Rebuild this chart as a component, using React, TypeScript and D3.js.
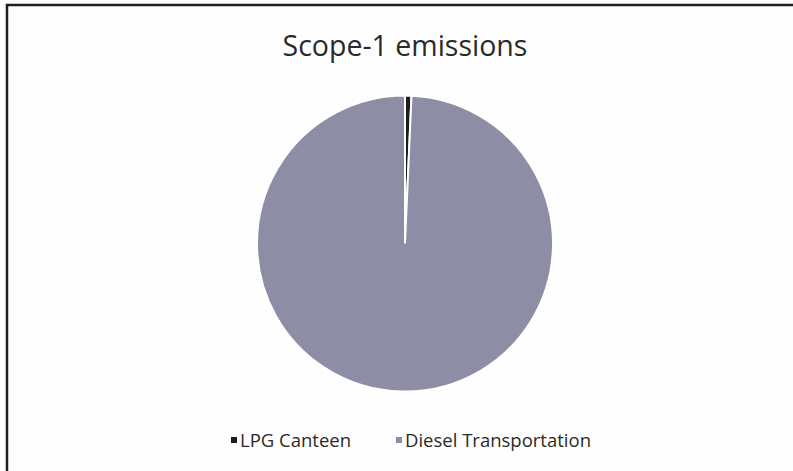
import React, { useRef, useEffect } from "react";
import * as d3 from "d3";

// emission share by source (percent)
const categories = ["LPG Canteen", "Diesel Transportation"];
const values = [0.7, 99.3];
const colors = ["#1c1c1c", "#8d8ea6"];
const title = "Scope-1 emissions";

const App = () => {
  const node: any = useRef();

  useEffect(() => {
    const width = 793,
      height = 471;
    const svg = d3.select(node.current).attr("width", width).attr("height", height);
    svg.selectAll("*").remove();

    svg
      .append("rect")
      .attr("width", width)
      .attr("height", height)
      .attr("fill", "#fefefe");

    // chart frame, runs off the right and bottom of the picture
    svg
      .append("rect")
      .attr("x", 7)
      .attr("y", 5)
      .attr("width", width + 20)
      .attr("height", height + 20)
      .attr("fill", "none")
      .attr("stroke", "#1e1e1e")
      .attr("stroke-width", 2.5);

    svg
      .append("text")
      .attr("x", 405)
      .attr("y", 56)
      .attr("text-anchor", "middle")
      .attr("font-family", "'Open Sans', sans-serif")
      .attr("font-size", 28.5)
      .attr("fill", "#2a2a2a")
      .text(title);

    const radius = 148;
    const g = svg.append("g").attr("transform", "translate(405,243.5)");
    const pie = d3.pie<number>().sort(null);
    const arc: any = d3.arc().innerRadius(0).outerRadius(radius);

    g.selectAll("path")
      .data(pie(values))
      .enter()
      .append("path")
      .attr("d", arc)
      .attr("fill", (_, i) => colors[i])
      .attr("stroke", "#ffffff")
      .attr("stroke-width", 2);

    // legend
    const legend = svg
      .append("g")
      .selectAll("g")
      .data(categories)
      .enter()
      .append("g")
      .attr("transform", (_, i) => `translate(${i === 0 ? 231 : 396},440)`);
    legend
      .append("rect")
      .attr("x", 0)
      .attr("y", -3)
      .attr("width", 6)
      .attr("height", 6)
      .attr("fill", (_, i) => colors[i]);
    legend
      .append("text")
      .attr("x", 9)
      .attr("y", 6.5)
      .attr("font-family", "'Open Sans', sans-serif")
      .attr("font-size", 18.5)
      .attr("fill", "#2a2a2a")
      .text(d => d);
  }, []);

  return (
    <div style={{ position: "absolute", left: 0, top: 0 }}>
      <svg ref={node}></svg>
    </div>
  );
};

export default App;
